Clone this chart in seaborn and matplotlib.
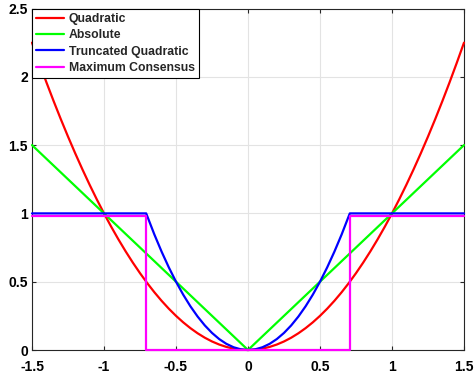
import matplotlib
matplotlib.use("Agg")
import matplotlib.pyplot as plt
import seaborn as sns
import pandas as pd

# ---- data ----
x_quad = [-1.5, -1.45, -1.4, -1.35, -1.3, -1.25, -1.2, -1.15, -1.1, -1.05, -1.0,
          -0.95, -0.9, -0.85, -0.8, -0.75, -0.7, -0.65, -0.6, -0.55, -0.5,
          -0.45, -0.4, -0.35, -0.3, -0.25, -0.2, -0.15, -0.1, -0.05, 0.0,
          0.05, 0.1, 0.15, 0.2, 0.25, 0.3, 0.35, 0.4, 0.45, 0.5,
          0.55, 0.6, 0.65, 0.7, 0.75, 0.8, 0.85, 0.9, 0.95, 1.0,
          1.05, 1.1, 1.15, 1.2, 1.25, 1.3, 1.35, 1.4, 1.45, 1.5]
y_quad = [2.25, 2.1025, 1.96, 1.8225, 1.69, 1.5625, 1.44, 1.3225, 1.21, 1.1025, 1.0,
          0.9025, 0.81, 0.7225, 0.64, 0.5625, 0.49, 0.4225, 0.36, 0.3025, 0.25,
          0.2025, 0.16, 0.1225, 0.09, 0.0625, 0.04, 0.0225, 0.01, 0.0025, 0.0,
          0.0025, 0.01, 0.0225, 0.04, 0.0625, 0.09, 0.1225, 0.16, 0.2025, 0.25,
          0.3025, 0.36, 0.4225, 0.49, 0.5625, 0.64, 0.7225, 0.81, 0.9025, 1.0,
          1.1025, 1.21, 1.3225, 1.44, 1.5625, 1.69, 1.8225, 1.96, 2.1025, 2.25]

x_abs = [-1.5, 0.0, 1.5]
y_abs = [1.5, 0.0, 1.5]

x_trunc = [-1.5, -0.707, -0.65, -0.6, -0.55, -0.5, -0.45, -0.4, -0.35, -0.3, -0.25,
           -0.2, -0.15, -0.1, -0.05, 0.0, 0.05, 0.1, 0.15, 0.2, 0.25, 0.3, 0.35,
           0.4, 0.45, 0.5, 0.55, 0.6, 0.65, 0.707, 1.5]
y_trunc = [1.0, 1.0, 0.845, 0.72, 0.605, 0.5, 0.405, 0.32, 0.245, 0.18, 0.125,
           0.08, 0.045, 0.02, 0.005, 0.0, 0.005, 0.02, 0.045, 0.08, 0.125, 0.18, 0.245,
           0.32, 0.405, 0.5, 0.605, 0.72, 0.845, 1.0, 1.0]

x_mc = [-1.5, -0.707, -0.707, 0.707, 0.707, 1.5]
y_mc = [0.98, 0.98, 0.0, 0.0, 0.98, 0.98]

series_names = ["Quadratic", "Absolute", "Truncated Quadratic", "Maximum Consensus"]
series_colors = ["#ff0000", "#00ff00", "#0000ff", "#ff00ff"]

x_ticks = [-1.5, -1, -0.5, 0, 0.5, 1, 1.5]
x_tick_labels = ["-1.5", "-1", "-0.5", "0", "0.5", "1", "1.5"]
y_ticks = [0, 0.5, 1, 1.5, 2, 2.5]
y_tick_labels = ["0", "0.5", "1", "1.5", "2", "2.5"]

# ---- build table ----
frames = []
for name, xs, ys in zip(series_names,
                        [x_quad, x_abs, x_trunc, x_mc],
                        [y_quad, y_abs, y_trunc, y_mc]):
    frames.append(pd.DataFrame({"x": xs, "y": ys, "series": name}))
df = pd.concat(frames, ignore_index=True)

sns.set_style("whitegrid")
plt.rcParams["font.family"] = ["Liberation Sans", "DejaVu Sans"]
plt.rcParams["font.weight"] = "bold"

fig = plt.figure(figsize=(4.74, 3.75), dpi=100)
ax = fig.add_axes([32 / 474, 25 / 375, 432 / 474, 341.5 / 375])

sns.lineplot(data=df, x="x", y="y", hue="series", hue_order=series_names,
             palette=series_colors, sort=False, estimator=None, units="series",
             linewidth=1.6, ax=ax)
for ln in ax.get_lines():
    ln.set_clip_on(False)
    ln.set_zorder(3)

ax.set_xlim(-1.5, 1.5)
ax.set_ylim(0, 2.5)
ax.set_xticks(x_ticks)
ax.set_xticklabels(x_tick_labels, fontsize=10, fontweight="bold")
ax.set_yticks(y_ticks)
ax.set_yticklabels(y_tick_labels, fontsize=10, fontweight="bold")
ax.set_xlabel("")
ax.set_ylabel("")

ax.grid(True, color="#e3e3e3", linewidth=0.8)
ax.set_axisbelow(True)
for s in ax.spines.values():
    s.set_visible(True)
    s.set_color("#262626")
    s.set_linewidth(0.8)
    s.set_zorder(2.5)
ax.tick_params(direction="in", length=3, width=0.8, color="#262626",
               top=True, right=True, bottom=True, left=True,
               labelcolor="black")
ax.tick_params(axis="x", pad=7)
ax.tick_params(axis="y", pad=3)

leg = ax.legend(loc="upper left", borderaxespad=0, frameon=True, fancybox=False,
                framealpha=1, edgecolor="black", handlelength=2.3,
                handletextpad=0.35, labelspacing=0.36, borderpad=0.35,
                prop={"weight": "bold", "size": 8.8})
leg.get_frame().set_linewidth(0.8)
leg.set_zorder(5)

fig.savefig("out.png", dpi=100)
